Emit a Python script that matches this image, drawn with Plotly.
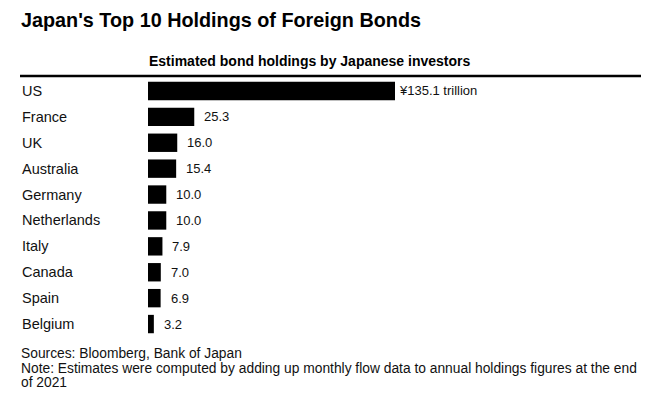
import plotly.graph_objects as go

countries = ["US", "France", "UK", "Australia", "Germany", "Netherlands", "Italy", "Canada", "Spain", "Belgium"]
holdings = [135.1, 25.3, 16.0, 15.4, 10.0, 10.0, 7.9, 7.0, 6.9, 3.2]
value_labels = ["¥135.1 trillion", "25.3", "16.0", "15.4", "10.0", "10.0", "7.9", "7.0", "6.9", "3.2"]
footer_lines = ["Sources: Bloomberg, Bank of Japan",
                "Note: Estimates were computed by adding up monthly flow data to annual holdings figures at the end",
                "of 2021"]

OFF = 8  # page body margin
W, H = 655, 397
L, R, T = 148 - OFF, 15, 78 - OFF
ph = 259
B = H - T - ph
pw = W - L - R
def px_x(x):
    return (x - OFF - L) / pw
def px_y(y):
    return 1 - (y - OFF - T) / ph

FONT = "Liberation Sans, Arial, sans-serif"
xmax = 135.1 * pw / 247.0

fig = go.Figure(go.Bar(
    x=holdings, y=countries, orientation="h",
    marker=dict(color="#000000", line=dict(width=0)),
    hoverinfo="skip",
))

ann = []
for c, v, t in zip(countries, holdings, value_labels):
    ann.append(dict(x=v, y=c, xref="x", yref="y", text=t, showarrow=False,
                    xanchor="left", yanchor="middle", xshift=2 if c == "US" else 8,
                    font=dict(family=FONT, size=13, color="#111")))
    ann.append(dict(x=px_x(20), y=c, xref="paper", yref="y", text=c, showarrow=False,
                    xanchor="left", yanchor="middle",
                    font=dict(family=FONT, size=14.5, color="#111")))

ann.append(dict(x=px_x(19), y=px_y(20), xref="paper", yref="paper",
                text="<b>Japan's Top 10 Holdings of Foreign Bonds</b>", showarrow=False,
                xanchor="left", yanchor="middle", font=dict(family=FONT, size=19.8, color="#000")))
ann.append(dict(x=px_x(147), y=px_y(61), xref="paper", yref="paper",
                text="<b>Estimated bond holdings by Japanese investors</b>", showarrow=False,
                xanchor="left", yanchor="middle", font=dict(family=FONT, size=14, color="#000")))
for line, yy in zip(footer_lines, [353, 368, 382]):
    ann.append(dict(x=px_x(19), y=px_y(yy), xref="paper", yref="paper",
                    text=line, showarrow=False, xanchor="left", yanchor="middle",
                    font=dict(family=FONT, size=13.8, color="#111")))

fig.update_layout(
    width=W, height=H,
    margin=dict(l=L, r=R, t=T, b=B, pad=0),
    paper_bgcolor="white", plot_bgcolor="white",
    showlegend=False,
    bargap=0.29,
    xaxis=dict(range=[0, xmax], visible=False, fixedrange=True),
    yaxis=dict(categoryorder="array", categoryarray=countries[::-1], visible=False, fixedrange=True),
    annotations=ann,
    shapes=[dict(type="line", xref="paper", yref="paper", x0=px_x(20), x1=px_x(641),
                 y0=px_y(76), y1=px_y(76), line=dict(color="#000", width=2.5))],
)

fig.write_html("out.html")
